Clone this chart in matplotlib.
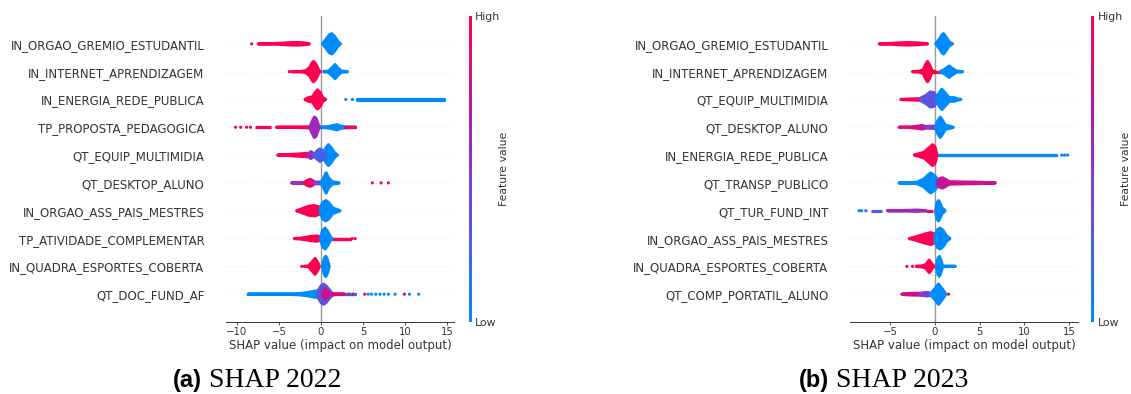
import numpy as np
import matplotlib
matplotlib.use('Agg')
import matplotlib.pyplot as plt
from matplotlib.colors import LinearSegmentedColormap
from matplotlib.cm import ScalarMappable

# ---------------- data ----------------
# feature names, top to bottom
names_2022 = ['IN_ORGAO_GREMIO_ESTUDANTIL', 'IN_INTERNET_APRENDIZAGEM', 'IN_ENERGIA_REDE_PUBLICA',
              'TP_PROPOSTA_PEDAGOGICA', 'QT_EQUIP_MULTIMIDIA', 'QT_DESKTOP_ALUNO',
              'IN_ORGAO_ASS_PAIS_MESTRES', 'TP_ATIVIDADE_COMPLEMENTAR', 'IN_QUADRA_ESPORTES_COBERTA',
              'QT_DOC_FUND_AF']
names_2023 = ['IN_ORGAO_GREMIO_ESTUDANTIL', 'IN_INTERNET_APRENDIZAGEM', 'QT_EQUIP_MULTIMIDIA',
              'QT_DESKTOP_ALUNO', 'IN_ENERGIA_REDE_PUBLICA', 'QT_TRANSP_PUBLICO', 'QT_TUR_FUND_INT',
              'IN_ORGAO_ASS_PAIS_MESTRES', 'IN_QUADRA_ESPORTES_COBERTA', 'QT_COMP_PORTATIL_ALUNO']

# dense parts of each swarm: (row from top, feature value 0=low..1=high, SHAP x knots, half thickness in rows)
blobs_2022 = [
    (0, 1.0, [-7.45, -6.0, -4.5, -3.5, -2.5, -1.8, -1.4], [0.05, 0.06, 0.08, 0.10, 0.10, 0.08, 0.05]),
    (0, 0.0, [0.2, 0.6, 1.0, 1.27, 1.6, 2.0, 2.3], [0.06, 0.22, 0.38, 0.42, 0.32, 0.14, 0.05]),
    (1, 1.0, [-3.5, -2.5, -1.8, -1.3, -1.1, -0.9, -0.6, -0.3, -0.1], [0.05, 0.06, 0.09, 0.22, 0.35, 0.42, 0.32, 0.12, 0.05]),
    (1, 0.0, [0.3, 0.9, 1.4, 1.67, 1.95, 2.4, 3.15], [0.06, 0.08, 0.22, 0.31, 0.20, 0.08, 0.05]),
    (2, 1.0, [-1.9, -1.5, -1.0, -0.7, -0.44, -0.1, 0.2, 0.55], [0.06, 0.12, 0.15, 0.30, 0.40, 0.30, 0.12, 0.05]),
    (2, 0.0, [4.25, 8.0, 12.0, 14.56], [0.06, 0.06, 0.06, 0.06]),
    (3, 1.0, [-7.9, -5.9], [0.05, 0.05]),
    (3, 1.0, [-5.3, -3.0, -2.0, -1.2], [0.05, 0.06, 0.07, 0.08]),
    (3, 0.0, [-0.2, 0.8, 1.5, 1.87, 2.3, 3.0, 4.05], [0.06, 0.08, 0.12, 0.15, 0.10, 0.07, 0.05]),
    (3, 0.95, [2.9, 3.5, 4.05], [0.05, 0.05, 0.05]),
    (3, 0.6, [-1.3, -1.0, -0.8, -0.6, -0.4, -0.2], [0.10, 0.30, 0.42, 0.38, 0.20, 0.06]),
    (4, 1.0, [-5.15, -4.0, -3.0, -2.0, -1.4], [0.05, 0.07, 0.09, 0.11, 0.12]),
    (4, 0.6, [-1.6, -1.2, -0.8], [0.08, 0.18, 0.08]),
    (4, 0.0, [0.2, 0.6, 0.87, 1.2, 1.6, 1.94], [0.10, 0.32, 0.43, 0.32, 0.14, 0.05]),
    (4, 0.25, [-0.8, -0.4, -0.12, 0.2, 0.5], [0.10, 0.22, 0.28, 0.22, 0.12]),
    (5, 0.55, [-3.5, -2.5, -1.8], [0.05, 0.06, 0.08]),
    (5, 0.95, [-2.0, -1.6, -1.3, -1.0, -0.7], [0.08, 0.15, 0.18, 0.14, 0.07]),
    (5, 0.45, [-0.8, -0.3, 0.1], [0.08, 0.09, 0.08]),
    (5, 0.0, [0.0, 0.35, 0.6, 0.85, 1.3, 2.14], [0.08, 0.25, 0.42, 0.25, 0.10, 0.05]),
    (6, 1.0, [-2.9, -2.5, -2.0, -1.4, -0.8, -0.3, -0.1], [0.06, 0.10, 0.16, 0.22, 0.24, 0.20, 0.10]),
    (6, 0.0, [-0.1, 0.2, 0.56, 0.9, 1.4, 1.9, 2.26], [0.12, 0.35, 0.42, 0.35, 0.15, 0.10, 0.05]),
    (7, 1.0, [-3.17, -2.5, -1.8, -1.2, -0.5, -0.1], [0.05, 0.07, 0.10, 0.13, 0.15, 0.12]),
    (7, 1.0, [1.3, 2.4, 3.4], [0.05, 0.05, 0.05]),
    (7, 0.0, [-0.05, 0.2, 0.48, 0.8, 1.1, 1.3], [0.10, 0.35, 0.43, 0.30, 0.12, 0.06]),
    (8, 1.0, [-2.0, -1.5, -1.1, -0.71, -0.4, -0.2], [0.05, 0.07, 0.20, 0.34, 0.20, 0.06]),
    (8, 0.0, [0.2, 0.4, 0.56, 0.75, 0.95], [0.10, 0.35, 0.42, 0.30, 0.08]),
    (9, 0.0, [-8.65, -6.0, -4.0, -2.5, -1.5, -0.8, -0.3], [0.05, 0.05, 0.06, 0.08, 0.12, 0.16, 0.18]),
    (9, 0.0, [1.3, 2.5, 4.0], [0.05, 0.05, 0.05]),
    (9, 0.35, [-0.3, 0.0, 0.28, 0.6, 1.0, 1.3], [0.20, 0.35, 0.42, 0.35, 0.20, 0.10]),
    (9, 0.8, [0.2, 0.5, 0.9], [0.10, 0.25, 0.10]),
    (9, 0.9, [1.3, 2.0, 2.8], [0.08, 0.06, 0.05]),
]
# isolated points: (row from top, SHAP x, feature value)
dots_2022 = [
    (0, -8.25, 1.0), (1, -3.77, 1.0), (2, 2.94, 0.0), (2, 3.73, 0.0),
    (3, -10.16, 1.0), (3, -9.56, 1.0), (3, -8.85, 1.0), (3, -8.4, 1.0),
    (5, 6.1, 1.0), (5, 7.14, 1.0), (5, 8.0, 1.0),
    (7, 3.7, 1.0), (7, 4.05, 1.0), (8, -2.3, 1.0),
    (9, 3.3, 0.9), (9, 3.8, 0.9), (9, 5.2, 1.0), (9, 5.6, 0.0), (9, 6.0, 0.0), (9, 6.5, 0.0),
    (9, 7.0, 0.0), (9, 7.5, 0.0), (9, 8.0, 0.0), (9, 8.8, 0.0), (9, 9.9, 0.9),
    (9, 10.5, 0.0), (9, 11.6, 0.0),
]

blobs_2023 = [
    (0, 1.0, [-6.23, -5.0, -4.0, -3.0, -2.0, -1.2, -0.82], [0.05, 0.07, 0.09, 0.10, 0.09, 0.07, 0.05]),
    (0, 0.0, [0.1, 0.5, 0.8, 0.97, 1.2, 1.6, 1.98], [0.06, 0.22, 0.38, 0.42, 0.32, 0.12, 0.05]),
    (1, 1.0, [-0.35, 0.86], [0.05, 0.05]),
    (1, 1.0, [-2.5, -1.8, -1.3, -1.05, -0.82, -0.6, -0.35, 0.0], [0.05, 0.07, 0.12, 0.30, 0.42, 0.30, 0.10, 0.05]),
    (1, 0.0, [0.6, 1.0, 1.35, 1.6, 1.9, 2.4, 3.1], [0.06, 0.12, 0.20, 0.26, 0.18, 0.08, 0.05]),
    (2, 1.0, [-3.8, -3.0, -2.0, -1.3], [0.05, 0.07, 0.08, 0.10]),
    (2, 0.35, [-1.6, -1.0, -0.5, -0.1, 0.2], [0.10, 0.20, 0.33, 0.30, 0.15]),
    (2, 0.0, [0.2, 0.5, 0.78, 1.1, 1.6, 2.16, 2.5, 2.9], [0.10, 0.30, 0.42, 0.30, 0.12, 0.12, 0.08, 0.05]),
    (3, 0.85, [-4.0, -3.0, -2.0, -1.4, -1.0], [0.05, 0.06, 0.09, 0.12, 0.08]),
    (3, 0.5, [-1.2, -0.6, 0.0], [0.08, 0.09, 0.10]),
    (3, 0.0, [0.1, 0.35, 0.6, 0.85, 1.2, 1.6, 2.05], [0.10, 0.30, 0.42, 0.30, 0.12, 0.10, 0.05]),
    (4, 0.0, [0.19, 5.0, 10.0, 13.5], [0.06, 0.06, 0.06, 0.06]),
    (4, 1.0, [-2.3, -1.8, -1.2, -0.7, -0.26, 0.0, 0.19], [0.05, 0.10, 0.16, 0.30, 0.43, 0.35, 0.12]),
    (5, 0.8, [1.6, 3.0, 5.0, 6.75], [0.10, 0.09, 0.08, 0.05]),
    (5, 0.0, [-4.0, -3.0, -2.0, -1.2, -0.7, -0.45, 0.0, 0.4], [0.05, 0.06, 0.08, 0.20, 0.36, 0.41, 0.30, 0.15]),
    (5, 0.75, [0.3, 0.6, 0.86, 1.2, 1.6], [0.12, 0.22, 0.24, 0.18, 0.10]),
    (6, 0.3, [-7.2, -5.9], [0.05, 0.05]),
    (6, 0.6, [-5.3, -4.0, -3.0, -2.0, -1.0], [0.05, 0.06, 0.07, 0.08, 0.06]),
    (6, 0.95, [-1.0, -0.25], [0.05, 0.05]),
    (6, 0.0, [0.1, 0.25, 0.41, 0.6, 0.8, 1.1], [0.10, 0.35, 0.42, 0.30, 0.15, 0.08]),
    (7, 1.0, [-2.87, -2.3, -1.7, -1.1, -0.45, -0.1, 0.05], [0.05, 0.10, 0.16, 0.22, 0.27, 0.22, 0.10]),
    (7, 0.0, [0.0, 0.3, 0.6, 0.9, 1.3, 1.68], [0.15, 0.38, 0.43, 0.35, 0.15, 0.05]),
    (8, 1.0, [-2.1, -1.5, -1.0, -0.63, -0.35, -0.1], [0.05, 0.07, 0.12, 0.28, 0.15, 0.06]),
    (8, 0.0, [0.85, 1.5, 2.28], [0.07, 0.06, 0.05]),
    (8, 0.0, [0.2, 0.35, 0.49, 0.65, 0.85], [0.10, 0.35, 0.41, 0.30, 0.08]),
    (9, 0.8, [-3.7, -3.0, -2.0, -1.2], [0.06, 0.08, 0.09, 0.09]),
    (9, 0.45, [-1.6, -1.0, -0.5], [0.08, 0.12, 0.10]),
    (9, 0.0, [-0.45, 0.0, 0.41, 0.8, 1.23], [0.08, 0.25, 0.42, 0.25, 0.06]),
]
dots_2023 = [
    (4, 14.2, 0.0), (4, 14.5, 0.0), (4, 14.85, 0.0),
    (6, -8.47, 0.0), (6, -8.2, 0.0), (6, -7.72, 0.1),
    (8, -3.13, 1.0), (8, -2.5, 1.0),
    (9, 1.53, 1.0),
]

panels = [
    ('(a)', ' SHAP 2022', names_2022, blobs_2022, dots_2022),
    ('(b)', ' SHAP 2023', names_2023, blobs_2023, dots_2023),
]

# ---------------- style ----------------
cmap = LinearSegmentedColormap.from_list(
    'red_blue', [(0.0, '#008bfb'), (0.45, '#7c3fd6'), (0.7, '#b41aa6'), (1.0, '#ff0051')])
axis_color = '#333333'
DOT_PT = 2.3          # marker diameter in points
ROW_PX = 27.7         # pixels between rows
R = (DOT_PT / 72 * 100 / 2) / ROW_PX   # dot radius in row units

fig = plt.figure(figsize=(11.31, 3.94), dpi=100)
ax_pos = [[0.1998, 0.1827, 0.2016, 0.7767], [0.7515, 0.1827, 0.2016, 0.7767]]
cb_pos = [[0.4145, 0.1827, 0.0027, 0.7767], [0.9645, 0.1827, 0.0027, 0.7767]]
xlims = [(-11.3, 15.8), (-9.5, 16.0)]
xticks = [[-10, -5, 0, 5, 10, 15], [-5, 0, 5, 10, 15]]
cap_x = [0.153, 0.706]

for k, (tag, title, names, blobs, dots) in enumerate(panels):
    ax = fig.add_axes(ax_pos[k])
    n = len(names)
    for i in range(n):
        ax.axhline(y=i, color='#cccccc', lw=0.5, dashes=(1, 5), zorder=-1)
    ax.axvline(x=0, color='#999999', lw=1, zorder=-1)

    for row, val, xs, hs in blobs:
        y = n - 1 - row
        xs = np.array(xs)
        hs = np.clip(np.array(hs) - R, 0, None)
        c = cmap(val)
        ax.fill(np.concatenate([xs, xs[::-1]]), np.concatenate([y + hs, (y - hs)[::-1]]),
                facecolor=c, edgecolor=c, lw=DOT_PT, joinstyle='round', zorder=2)
    dx = [d[1] for d in dots]
    dy = [n - 1 - d[0] for d in dots]
    dc = [d[2] for d in dots]
    ax.scatter(dx, dy, c=dc, cmap=cmap, vmin=0, vmax=1, s=DOT_PT ** 2, linewidths=0, zorder=3)

    ax.set_xlim(*xlims[k])
    ax.set_ylim(-1, n)
    ax.set_yticks(range(n))
    ax.set_yticklabels(names[::-1], fontsize=8.5, color=axis_color)
    ax.set_xticks(xticks[k])
    ax.tick_params('y', length=0, pad=15.5)
    ax.tick_params('x', length=2.2, width=0.6, pad=1.2, labelsize=7.3, color=axis_color, labelcolor=axis_color)
    for s in ['left', 'right', 'top']:
        ax.spines[s].set_visible(False)
    ax.spines['bottom'].set_color(axis_color)
    ax.spines['bottom'].set_linewidth(0.7)
    ax.set_xlabel('SHAP value (impact on model output)', fontsize=8.5, color=axis_color, labelpad=1.5)

    cax = fig.add_axes(cb_pos[k])
    cb = fig.colorbar(ScalarMappable(cmap=cmap, norm=plt.Normalize(0, 1)), cax=cax, ticks=[0, 1])
    cb.set_ticklabels(['Low', 'High'])
    cb.ax.tick_params(labelsize=7.8, length=0, pad=2.5, labelcolor=axis_color)
    cb.set_label('Feature value', size=7.8, labelpad=-1, color=axis_color)
    cb.outline.set_visible(False)

    t = fig.text(cap_x[k], 0.018, tag, fontsize=17, fontweight='bold',
                 family='Liberation Sans', va='baseline')
    fig.canvas.draw()
    bb = t.get_window_extent()
    fig.text(bb.x1 / fig.bbox.width, 0.018, title, fontsize=20,
             family='Liberation Serif', va='baseline')

plt.savefig('out.png', dpi=100)
